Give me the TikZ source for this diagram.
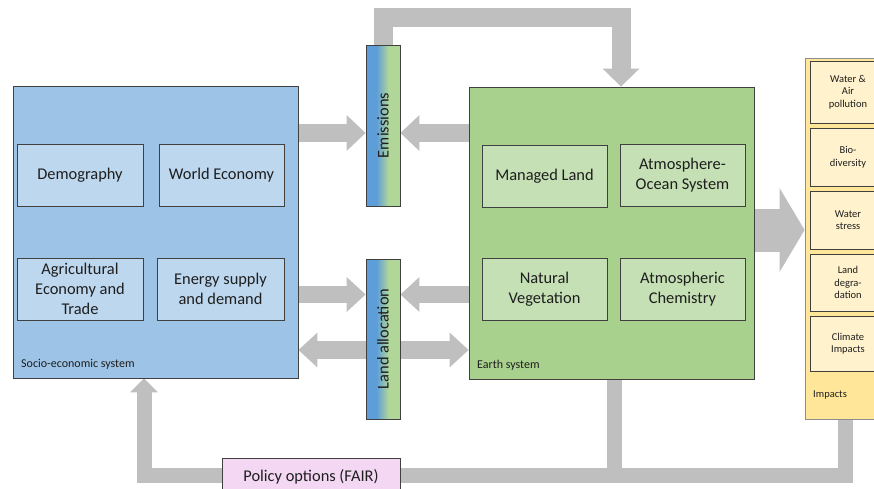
\documentclass[tikz,border=0pt]{standalone}
\usepackage{fontspec}
\setmainfont{Carlito}
\usetikzlibrary{arrows.meta,backgrounds}
\definecolor{socfill}{HTML}{9DC3E6}
\definecolor{socin}{HTML}{BDD7EE}
\definecolor{earthfill}{HTML}{A9D18E}
\definecolor{earthin}{HTML}{C5E0B4}
\definecolor{impfill}{HTML}{FFE699}
\definecolor{impin}{HTML}{FFF2CC}
\definecolor{polfill}{HTML}{F4D8F3}
\definecolor{arrgray}{HTML}{BFBFBF}
\definecolor{bord}{HTML}{404040}
\definecolor{impbord}{HTML}{8C8C8C}
\definecolor{txt}{HTML}{1E1E1E}
\definecolor{barblue}{HTML}{5E9ED8}
\definecolor{bargreen}{HTML}{B0D698}
\begin{document}
\begin{tikzpicture}[x=1pt,y=-1pt,
  box/.style={draw=bord, line width=0.9pt, inner sep=2pt, align=center, text=txt},
  bigfont/.style={font=\fontsize{16.4}{20}\selectfont},
  smallfont/.style={font=\fontsize{10.5}{12.5}\selectfont},
  lblfont/.style={font=\fontsize{12}{14}\selectfont},
  socinner/.style={box, bigfont, fill=socin, minimum height=62pt},
  earthinner/.style={box, bigfont, fill=earthin, minimum width=125pt, minimum height=62pt},
  impinner/.style={box, smallfont, fill=impin, minimum width=76pt},
  barbox/.style={draw=bord, line width=0.9pt, minimum width=34pt, inner sep=0pt,
    path picture={
      \foreach \i in {0,...,33}{
        \pgfmathsetmacro{\tmix}{max(0,min(100,(\i+0.5-11)/12*100))}
        \fill[bargreen!\tmix!barblue] ([xshift=\i pt]path picture bounding box.south west) rectangle ([xshift=\i pt+1.1pt]path picture bounding box.north west);
      }
    }},
  garrow/.style={draw=arrgray, line width=#1, line cap=butt, line join=miter},
]
\useasboundingbox (0,0) rectangle (874,489);
\clip (0,0) rectangle (874,489);

% main boxes
\node[box, fill=socfill, minimum width=285pt, minimum height=292pt] (socio) at (155.5,232) {};
\node[box, fill=earthfill, minimum width=285pt, minimum height=292pt] (earth) at (611.5,233) {};
\node[draw=impbord, line width=0.9pt, fill=impfill, minimum width=85pt, minimum height=361pt, inner sep=0pt] (impacts) at (847.5,238.5) {};

% socio-economic inner
\node[socinner, minimum width=126pt] (demo) at (80,175) {Demography};
\node[socinner, minimum width=125pt] (weco) at (221.5,175) {World Economy};
\node[socinner, minimum width=126pt] (agri) at (80,289) {Agricultural\\Economy and\\Trade};
\node[socinner, minimum width=127pt] (energy) at (220.5,289) {Energy supply\\and demand};
\node[lblfont, text=txt, anchor=base west, inner sep=0pt] (soclbl) at (21,367) {Socio-economic system};

% earth inner
\node[earthinner] (managed) at (544.5,176) {Managed Land};
\node[earthinner] (aos) at (682.5,175) {Atmosphere-\\Ocean System};
\node[earthinner] (natveg) at (544.5,289) {Natural\\Vegetation};
\node[earthinner] (chem) at (682.5,289) {Atmospheric\\Chemistry};
\node[lblfont, text=txt, anchor=base west, inner sep=0pt] (earthlbl) at (477,368) {Earth system};

% impacts inner
\node[impinner, minimum height=62pt] (imp1) at (848,92) {Water \&\\Air\\pollution};
\node[impinner, minimum height=58pt] (imp2) at (848,157) {Bio-\\diversity};
\node[impinner, minimum height=58pt] (imp3) at (848,220) {Water\\stress};
\node[impinner, minimum height=57pt] (imp4) at (848,282.5) {Land\\degra-\\dation};
\node[impinner, minimum height=55pt] (imp5) at (848,343.5) {Climate\\Impacts};
\node[smallfont, text=txt, anchor=base west, inner sep=0pt] (implbl) at (813,397) {Impacts};

% bars
\node[barbox, minimum height=161pt, label={[rotate=90, bigfont, text=txt]center:Emissions}] (emis) at (383,125.5) {};
\node[barbox, minimum height=160pt, label={[rotate=90, bigfont, text=txt]center:Land allocation}] (land) at (383,339) {};

% policy
\node[box, bigfont, fill=polfill, minimum width=178pt, minimum height=38pt] (policy) at (311,477) {Policy options (FAIR)};

% connectors
\begin{scope}[on background layer]
\coordinate (yE) at (0,133);
\coordinate (yL) at (0,294.5);
\coordinate (yD) at (0,350);
\coordinate (yB) at (0,230);
\coordinate (yT) at (0,17.5);
\coordinate (xT) at (621,0);
\coordinate (yF) at (0,475.5);
\coordinate (xR) at (845,0);
\coordinate (xM) at (614,0);
\coordinate (xL) at (144,0);
\draw[garrow=18pt, -{Triangle[width=36pt,length=19pt,line width=0pt]}] (socio.east |- yE) -- (emis.west |- yE);
\draw[garrow=18pt, -{Triangle[width=36pt,length=19pt,line width=0pt]}] (earth.west |- yE) -- (emis.east |- yE);
\draw[garrow=17pt, -{Triangle[width=35pt,length=19pt,line width=0pt]}] (socio.east |- yL) -- (land.west |- yL);
\draw[garrow=17pt, -{Triangle[width=35pt,length=19pt,line width=0pt]}] (earth.west |- yL) -- (land.east |- yL);
\draw[garrow=18pt, {Triangle[width=35pt,length=19pt,line width=0pt]}-{Triangle[width=35pt,length=19pt,line width=0pt]}] (socio.east |- yD) -- (earth.west |- yD);
\draw[garrow=19pt, -{Triangle[width=37pt,length=18pt,line width=0pt]}] (emis.north) -- (emis.north |- yT) -- (xT |- yT) -- (xT |- earth.north);
\draw[garrow=43pt, -{Triangle[width=84pt,length=25pt,line width=0pt]}] (earth.east |- yB) -- (impacts.west |- yB);
\draw[garrow=15pt, -{Triangle[width=28pt,length=14pt,line width=0pt]}] (impacts.south -| xR) -- (xR |- yF) -- (xL |- yF) -- (socio.south -| xL);
\draw[garrow=15pt] (earth.south -| xM) -- (xM |- yF);
\end{scope}
\end{tikzpicture}
\end{document}
